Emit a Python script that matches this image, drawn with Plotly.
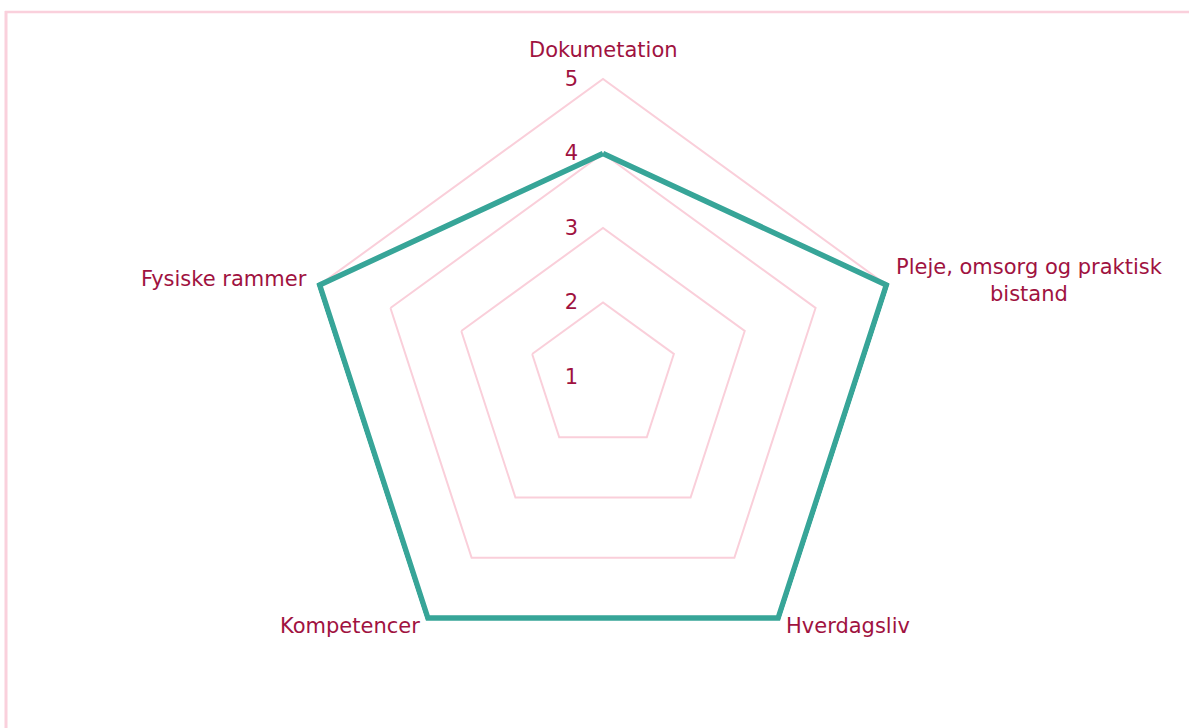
import math
import plotly.graph_objects as go

categories = ["Dokumetation", "Pleje, omsorg og praktisk<br>bistand", "Hverdagsliv", "Kompetencer", "Fysiske rammer"]
values = [4, 5, 5, 5, 5]
radial_ticks = [1, 2, 3, 4, 5]

W, H = 1189, 728
RMIN, RMAX, RTOP = 1, 5.05, 5
CX, CY, R5 = 603, 377, 298  # polar centre / radius of value 5, px
R = R5 * (RMAX - RMIN) / (RTOP - RMIN)
dom_x = [(CX - R) / W, (CX + R) / W]
dom_y = [(H - CY - R) / H, (H - CY + R) / H]

TEXT = "#A0123F"
GRID = "#FACFDA"
LINE = "#37A598"
FONT = "DejaVu Sans"
FS = 21

fig = go.Figure()
fig.add_trace(go.Scatterpolar(
    r=values + values[:1],
    theta=categories + categories[:1],
    mode="lines",
    line=dict(color=LINE, width=5.5),
    cliponaxis=False,
    showlegend=False,
    hoverinfo="skip",
))

fig.update_layout(
    width=W, height=H,
    margin=dict(l=0, r=0, t=0, b=0),
    paper_bgcolor="white",
    plot_bgcolor="white",
    font=dict(family=FONT, size=FS, color=TEXT),
    polar=dict(
        domain=dict(x=dom_x, y=dom_y),
        bgcolor="white",
        gridshape="linear",
        angularaxis=dict(
            rotation=90, direction="clockwise", layer="below traces",
            showline=False, showgrid=False, ticks="", showticklabels=False,
        ),
        radialaxis=dict(
            range=[RMIN, RMAX], tickvals=radial_ticks, angle=90, side="counterclockwise",
            layer="below traces",
            showline=False, showgrid=True, gridcolor=GRID, gridwidth=1.5,
            ticks="outside", ticklen=17, tickcolor="rgba(0,0,0,0)", tickangle=90,
            tickfont=dict(family=FONT, size=FS, color=TEXT),
        ),
    ),
)

# category labels placed just outside the outer vertices
offsets = [(0, -29, "center", "middle"), (8, -4, "left", "middle"), (6, 8, "left", "middle"),
           (-6, 8, "right", "middle"), (-11, -6, "right", "middle")]
n = len(categories)
for i, (cat, (dx, dy, xa, ya)) in enumerate(zip(categories, offsets)):
    ang = math.pi / 2 - 2 * math.pi * i / n
    vx = CX + R5 * math.cos(ang)
    vy = CY - R5 * math.sin(ang)
    fig.add_annotation(
        x=(vx + dx) / W, y=1 - (vy + dy) / H, xref="paper", yref="paper",
        text=cat, showarrow=False, xanchor=xa, yanchor=ya, align="center",
        font=dict(family=FONT, size=FS, color=TEXT),
    )

# light pink frame (top and left edges)
fig.add_shape(type="line", xref="paper", yref="paper", x0=5 / W, x1=1, y0=1 - 12 / H, y1=1 - 12 / H,
              line=dict(color="#FAD0DC", width=2.5))
fig.add_shape(type="line", xref="paper", yref="paper", x0=6 / W, x1=6 / W, y0=0, y1=1 - 11 / H,
              line=dict(color="#FAD0DC", width=3))

fig.write_html("out.html", config={"displayModeBar": False},
               post_script="document.body.style.margin='0';")
